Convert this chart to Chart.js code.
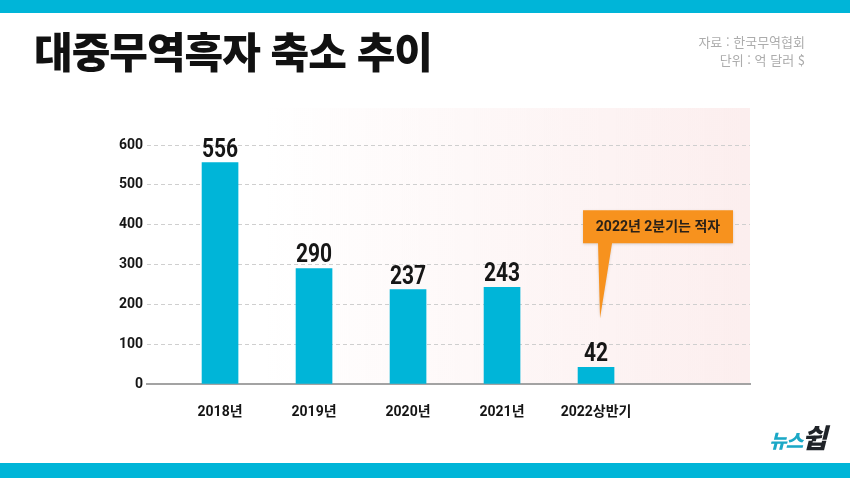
<!DOCTYPE html>
<html lang="ko">
<head>
<meta charset="utf-8">
<script src="https://cdn.jsdelivr.net/npm/chart.js@4.4.1/dist/chart.umd.min.js"></script>
<style>
  html, body { margin: 0; padding: 0; background: #fff; }
  #wrap { position: relative; width: 850px; height: 478px; overflow: hidden; font-family: 'Noto Sans CJK KR', 'Noto Sans', sans-serif; }
  .band { position: absolute; left: 0; width: 850px; background: #00b5d8; }
  #title { position: absolute; left: 34px; top: 24px; font-size: 42px; font-weight: 900; color: #111; letter-spacing: -1px; line-height: 52px; }
  #source { position: absolute; right: 45px; top: 33px; font-size: 13px; color: #acacac; text-align: right; line-height: 18px; }
  #logo { position: absolute; right: 24px; top: 420px; font-weight: 900; font-style: italic; line-height: 34px; letter-spacing: -1px; }
  #logo .a { color: #1ba8c6; font-size: 19px; }
  #logo .b { color: #1f2328; font-size: 27px; }
  canvas { position: absolute; left: 0; top: 0; }
</style>
</head>
<body>
<div id="wrap">
  <canvas id="chart" width="850" height="478"></canvas>
  <div class="band" style="top:0;height:13px"></div>
  <div class="band" style="top:463px;height:15px"></div>
  <div id="title">대중무역흑자 축소 추이</div>
  <div id="source">자료 : 한국무역협회<br>단위 : 억 달러 $</div>
  <div id="logo"><span class="a">뉴스</span><span class="b">쉽</span></div>
</div>
<script>
// 데이터
const categories = ['2018년', '2019년', '2020년', '2021년', '2022상반기'];
const surplus = [556, 290, 237, 243, 42];
const yMax = 600;
const yStep = 100;
const note = '2022년 2분기는 적자';

// 배경 (분홍 그라데이션)
const backdrop = {
    id: 'backdrop',
    beforeDraw(chart) {
        const { ctx, chartArea: a } = chart;
        const g = ctx.createLinearGradient(a.left + 120, 0, a.right, 0);
        g.addColorStop(0, 'rgba(252,238,238,0)');
        g.addColorStop(1, 'rgba(252,238,238,1)');
        ctx.save();
        ctx.fillStyle = g;
        ctx.fillRect(a.left, a.top - 37, a.right - a.left, a.bottom - a.top + 37);
        ctx.restore();
    }
};

// 막대 위 숫자
const valueLabels = {
    id: 'valueLabels',
    afterDatasetsDraw(chart) {
        const { ctx } = chart;
        const meta = chart.getDatasetMeta(0);
        ctx.save();
        ctx.fillStyle = '#161616';
        ctx.font = '700 25px Roboto, sans-serif';
        ctx.textAlign = 'center';
        ctx.textBaseline = 'alphabetic';
        meta.data.forEach((bar, i) => {
            ctx.save();
            ctx.translate(bar.x, bar.y - 6);
            ctx.scale(0.84, 1);
            ctx.fillText(String(surplus[i]), 0, 0);
            ctx.restore();
        });
        ctx.restore();
    }
};

// 말풍선
const callout = {
    id: 'callout',
    afterDatasetsDraw(chart) {
        const { ctx } = chart;
        const meta = chart.getDatasetMeta(0);
        const bar = meta.data[meta.data.length - 1];
        const left = bar.x - 13, right = bar.x + 137;
        const top = bar.y - 157, bottom = bar.y - 124;
        ctx.save();
        ctx.shadowColor = 'rgba(0,0,0,0.15)';
        ctx.shadowBlur = 3;
        ctx.shadowOffsetY = 1;
        ctx.fillStyle = '#f7921e';
        ctx.beginPath();
        ctx.moveTo(left, top);
        ctx.lineTo(right, top);
        ctx.lineTo(right, bottom);
        ctx.lineTo(bar.x + 16, bottom);
        ctx.lineTo(bar.x + 4, bar.y - 49);
        ctx.lineTo(bar.x + 2, bottom);
        ctx.lineTo(left, bottom);
        ctx.closePath();
        ctx.fill();
        ctx.shadowColor = 'transparent';
        ctx.fillStyle = '#2a2118';
        ctx.font = '700 14px Roboto, "Noto Sans CJK KR", sans-serif';
        ctx.textAlign = 'center';
        ctx.textBaseline = 'middle';
        ctx.fillText(note, (left + right) / 2, (top + bottom) / 2 + 1);
        ctx.restore();
    }
};

const ctx = document.getElementById('chart').getContext('2d');
new Chart(ctx, {
    type: 'bar',
    data: {
        datasets: [{
            data: surplus.map((v, i) => ({ x: i, y: v })),
            backgroundColor: '#00b5d8',
            barThickness: 36
        }]
    },
    options: {
        responsive: false,
        animation: false,
        layout: { padding: { left: 107, right: 100, top: 145, bottom: 54 } },
        plugins: { legend: { display: false }, tooltip: { enabled: false } },
        scales: {
            x: {
                type: 'linear',
                min: -0.777,
                max: 5.638,
                offset: false,
                grid: { display: false, offset: false },
                border: { display: true, color: '#a3a3a3', width: 2 },
                afterBuildTicks: s => { s.ticks = categories.map((c, i) => ({ value: i })); },
                afterFit: s => { s.height = 40; },
                ticks: {
                    autoSkip: false,
                    maxRotation: 0,
                    padding: 12,
                    color: '#151515',
                    font: { family: 'Roboto, "Noto Sans CJK KR", sans-serif', size: 14, weight: '700' },
                    callback: v => categories[v]
                }
            },
            y: {
                min: 0,
                max: yMax,
                afterFit: s => { s.width = 40; },
                grid: { color: '#cfcfcf', lineWidth: 1, drawTicks: false },
                border: { display: false, dash: [4, 3] },
                ticks: {
                    stepSize: yStep,
                    padding: 4,
                    color: '#151515',
                    font: { family: 'Roboto, sans-serif', size: 14, weight: '700' }
                }
            }
        }
    },
    plugins: [backdrop, valueLabels, callout]
});
</script>
</body>
</html>
